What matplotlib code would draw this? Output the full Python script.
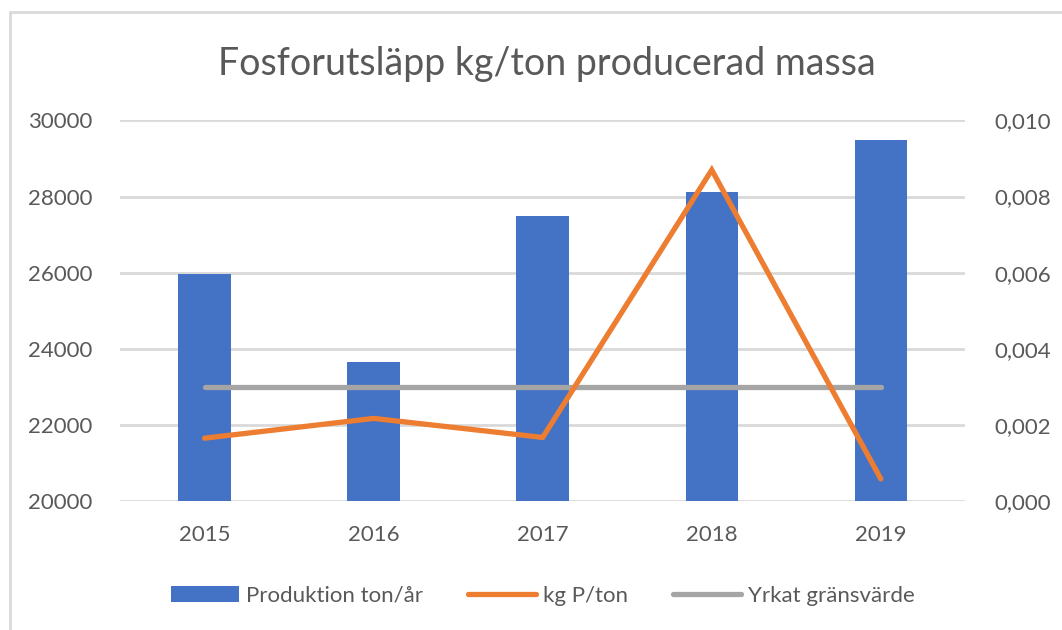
import matplotlib
matplotlib.use("Agg")
import matplotlib.pyplot as plt
from matplotlib.patches import Rectangle
from matplotlib.ticker import FuncFormatter

years = ["2015", "2016", "2017", "2018", "2019"]
produktion = [25960, 23640, 27490, 28130, 29490]
kg_p_ton = [0.00165, 0.00217, 0.00167, 0.00870, 0.00058]
gransvarde = [0.003, 0.003, 0.003, 0.003, 0.003]

plt.rcParams['font.family'] = ['Lato', 'DejaVu Sans']
txt = '#595959'

fig = plt.figure(figsize=(10.62, 6.3), dpi=100)
fig.patches.append(Rectangle((0.0094, -0.01), 1.02, 0.991, transform=fig.transFigure,
                             fill=False, edgecolor='#d9d9d9', linewidth=2))
ax = fig.add_axes([0.113, 0.2048, 0.796, 0.604])
ax2 = ax.twinx()

x = list(range(len(years)))
ax.bar(x, produktion, width=0.31, color='#4472C4', zorder=2, label='Produktion ton/år')
ax.set_ylim(20000, 30000)
ax.set_yticks(range(20000, 30001, 2000))
ax.set_xlim(-0.5, 4.5)
ax.set_xticks(x)
ax.set_xticklabels(years)
ax.grid(axis='y', color='#d9d9d9', linewidth=2, zorder=0)
ax.set_axisbelow(True)

ax2.plot(x, kg_p_ton, color='#ED7D31', linewidth=3.8, solid_capstyle='round',
         solid_joinstyle='miter', label='kg P/ton', zorder=3)
ax2.plot(x, gransvarde, color='#A5A5A5', linewidth=3.8, solid_capstyle='round',
         label='Yrkat gränsvärde', zorder=2)
ax2.set_ylim(0, 0.010)
ax2.set_yticks([0, 0.002, 0.004, 0.006, 0.008, 0.010])
ax2.yaxis.set_major_formatter(FuncFormatter(lambda v, p: f"{v:.3f}".replace('.', ',')))

for a in (ax, ax2):
    for s in a.spines.values():
        s.set_visible(False)
    a.tick_params(length=0, labelsize=16, labelcolor=txt)
ax.tick_params(axis='y', pad=20)
ax.tick_params(axis='x', pad=17)
ax2.tick_params(axis='y', pad=21)

fig.text(0.515, 0.898, 'Fosforutsläpp kg/ton producerad massa', ha='center', va='center',
         fontsize=27, color=txt)

h1, l1 = ax.get_legend_handles_labels()
h2, l2 = ax2.get_legend_handles_labels()
fig.legend(h1 + h2, l1 + l2, loc='center', bbox_to_anchor=(0.511, 0.054), ncol=3,
           frameon=False, fontsize=16, labelcolor=txt, handlelength=3.1,
           handletextpad=0.3, columnspacing=2.0)

fig.savefig('out.png', dpi=100)
